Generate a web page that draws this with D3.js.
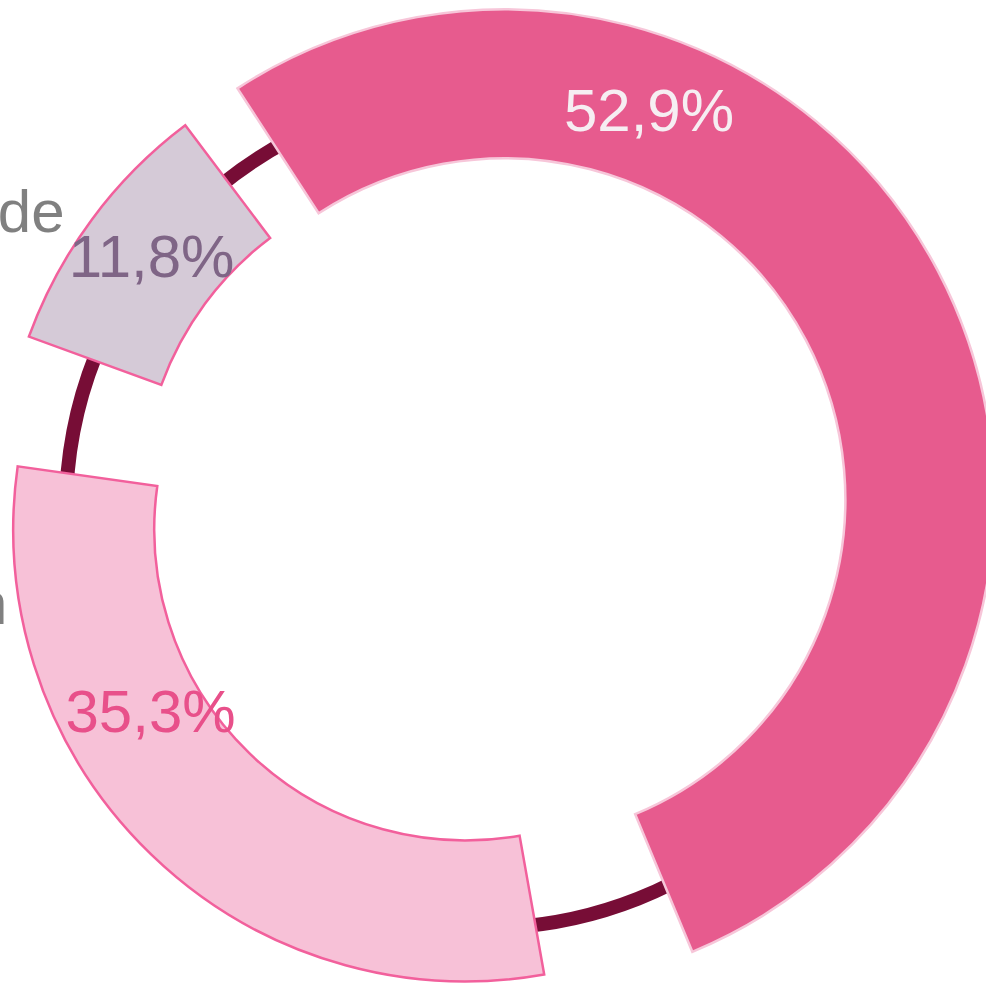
<!DOCTYPE html>
<html>
<head>
<meta charset="utf-8">
<script src="https://cdn.jsdelivr.net/npm/d3@7"></script>
<style>
  body { margin: 0; background: #fff; }
  svg { display: block; font-family: "Liberation Sans", Arial, sans-serif; }
</style>
</head>
<body>
<div id="chart"></div>
<script>
// data
const categories = ["", "n", "de"];
const values = [52.9, 35.3, 11.8];
const valueLabels = ["52,9%", "35,3%", "11,8%"];

const width = 986, height = 984;
const cx = 484, cy = 510;
const deg = Math.PI / 180;

// per-slice look
const fills = ["#e75b8e", "#f7c1d7", "#d5cad7"];
const strokes = ["#f7c6d9", "#f2609c", "#f2609c"];
const textColors = ["#f6eef2", "#e8508a", "#7f6586"];
const outerR = [490, 452, 463];
const innerR = [341, 311, 322];
const explode = [23, 27, 25];
const trimStart = [0, 12.5, 5.5];
const trimEnd = [0, 6.5, 4];
const labelAngle = [22.4, 239, 307.5];
const labelRadius = [433, 389, 419];
const catAngle = [70, 256.6, 303.5];
const catRadius = [520, 490, 503];

const svg = d3.select("#chart").append("svg")
    .attr("width", width)
    .attr("height", height);

const g = svg.append("g").attr("transform", "translate(" + cx + "," + cy + ")");

// thin ring behind the slices
g.append("circle")
    .attr("r", 418)
    .attr("fill", "none")
    .attr("stroke", "#770d36")
    .attr("stroke-width", 14);

const pie = d3.pie().sort(null)
    .startAngle(-33 * deg)
    .endAngle(327 * deg);

const arcs = pie(values).map((d, i) => {
    let s = d.startAngle + trimStart[i] * deg;
    let e = d.endAngle - trimEnd[i] * deg;
    return {i: i, startAngle: s, endAngle: e, mid: (s + e) / 2};
});

const slice = g.selectAll("g.slice").data(arcs).enter().append("g")
    .attr("class", "slice")
    .attr("transform", d => "translate(" + (explode[d.i] * Math.sin(d.mid)) + "," + (-explode[d.i] * Math.cos(d.mid)) + ")");

slice.append("path")
    .attr("d", d => d3.arc().innerRadius(innerR[d.i]).outerRadius(outerR[d.i])(d))
    .attr("fill", d => fills[d.i])
    .attr("stroke", d => strokes[d.i])
    .attr("stroke-width", 2.5);

// value labels
g.selectAll("text.val").data(arcs).enter().append("text")
    .attr("class", "val")
    .attr("x", d => labelRadius[d.i] * Math.sin(labelAngle[d.i] * deg))
    .attr("y", d => -labelRadius[d.i] * Math.cos(labelAngle[d.i] * deg))
    .attr("dy", "0.36em")
    .attr("text-anchor", "middle")
    .attr("font-size", 60)
    .attr("fill", d => textColors[d.i])
    .text(d => valueLabels[d.i]);

// category labels (mostly outside the frame)
g.selectAll("text.cat").data(arcs.filter(d => categories[d.i])).enter().append("text")
    .attr("class", "cat")
    .attr("x", d => catRadius[d.i] * Math.sin(catAngle[d.i] * deg))
    .attr("y", d => -catRadius[d.i] * Math.cos(catAngle[d.i] * deg))
    .attr("text-anchor", "end")
    .attr("font-size", 60)
    .attr("fill", "#808080")
    .text(d => categories[d.i]);
</script>
</body>
</html>
